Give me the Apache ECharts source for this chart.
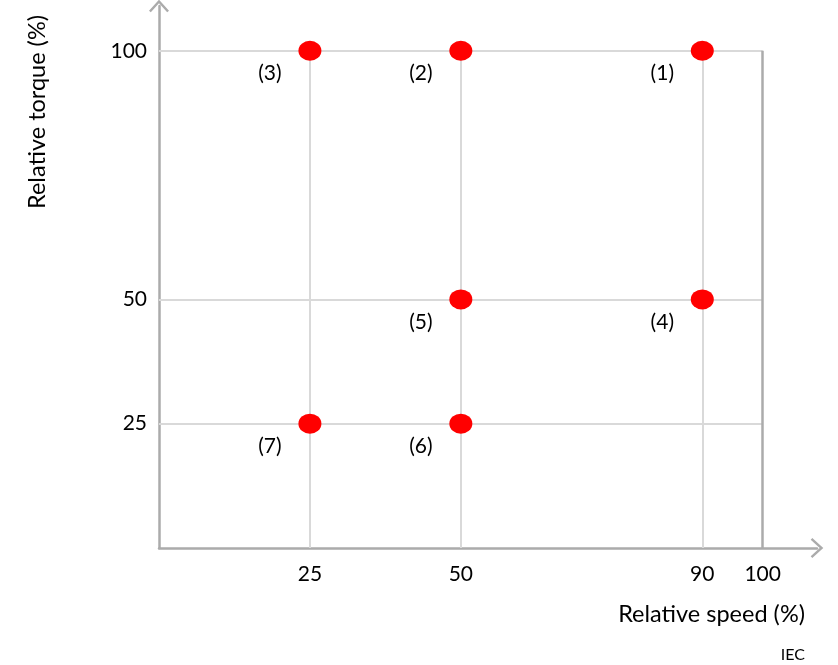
<!DOCTYPE html>
<html>
<head>
<meta charset="utf-8">
<script src="https://cdn.jsdelivr.net/npm/echarts@6/dist/echarts.min.js"></script>
<style>
  html, body { margin: 0; padding: 0; background: #fff; }
  #chart { width: 838px; height: 665px; }
</style>
</head>
<body>
<div id="chart"></div>
<script>
// Operating points: relative speed (%) and relative torque (%), with their numbers
const pointSpeed  = [90, 50, 25, 90, 50, 50, 25];
const pointTorque = [100, 100, 100, 50, 50, 25, 25];
const pointNames  = ['(1)', '(2)', '(3)', '(4)', '(5)', '(6)', '(7)'];

// Tick labels / reference lines
const speedTicks  = [25, 50, 90, 100];
const torqueTicks = [25, 50, 100];
const speedGrid   = [25, 50, 90];
const torqueGrid  = [25, 50, 100];
const speedLimit  = 100;
const torqueLimit = 100;

const FONT = 'Lato, "Open Sans", sans-serif';
const AXIS_GRAY = '#ababab';
const GRID_GRAY = '#d9d9d9';

// Open chevron arrowhead (points up, rotated by the axis)
const chevron = 'path://M10,0 L20,11 L18.2,12.6 L10,3.6 L1.8,12.6 L0,11 Z';

const gridLines = [];
speedGrid.forEach(v => gridLines.push([
  { coord: [v, 0], lineStyle: { color: GRID_GRAY, width: 2, type: 'solid' } },
  { coord: [v, torqueLimit] }
]));
torqueGrid.forEach(v => gridLines.push([
  { coord: [0, v], lineStyle: { color: GRID_GRAY, width: 2, type: 'solid' } },
  { coord: [speedLimit, v] }
]));
gridLines.push([
  { coord: [speedLimit, 0], lineStyle: { color: AXIS_GRAY, width: 2.5, type: 'solid' } },
  { coord: [speedLimit, torqueLimit] }
]);

const chart = echarts.init(document.getElementById('chart'), null, { renderer: 'canvas' });

chart.setOption({
  animation: false,
  backgroundColor: '#ffffff',
  grid: { left: 159, right: 21, top: 6, bottom: 117, containLabel: false },
  xAxis: {
    type: 'value',
    min: 0,
    max: 109,
    splitLine: { show: false },
    axisTick: { show: false },
    axisLine: {
      show: true,
      lineStyle: { color: AXIS_GRAY, width: 2.5 },
      symbol: ['none', chevron],
      symbolSize: [20, 13]
    },
    axisLabel: {
      customValues: speedTicks,
      margin: 16,
      color: '#000',
      fontFamily: FONT,
      fontSize: 21
    }
  },
  yAxis: {
    type: 'value',
    min: 0,
    max: 109,
    splitLine: { show: false },
    axisTick: { show: false },
    axisLine: {
      show: true,
      lineStyle: { color: AXIS_GRAY, width: 2.5 },
      symbol: ['none', chevron],
      symbolSize: [20, 13]
    },
    axisLabel: {
      customValues: torqueTicks,
      margin: 12,
      color: '#000',
      fontFamily: FONT,
      fontSize: 21
    }
  },
  series: [{
    type: 'scatter',
    symbol: 'circle',
    symbolSize: [23, 20],
    itemStyle: { color: '#ff0000', opacity: 1 },
    data: pointSpeed.map((s, i) => ({ value: [s, pointTorque[i]], name: pointNames[i] })),
    label: {
      show: true,
      position: 'bottom',
      distance: 2,
      offset: [-40, 0],
      formatter: p => p.name,
      color: '#000',
      fontFamily: FONT,
      fontSize: 21
    },
    markLine: {
      silent: true,
      symbol: ['none', 'none'],
      label: { show: false },
      animation: false,
      z: 1,
      data: gridLines
    },
    z: 5
  }],
  graphic: [
    {
      type: 'text',
      x: 37,
      y: 112,
      rotation: Math.PI / 2,
      style: {
        text: 'Relative torque (%)',
        fill: '#000',
        font: '23.5px ' + FONT,
        textAlign: 'center',
        textVerticalAlign: 'middle'
      }
    },
    {
      type: 'text',
      x: 805,
      y: 614,
      style: {
        text: 'Relative speed (%)',
        fill: '#000',
        font: '23.5px ' + FONT,
        textAlign: 'right',
        textVerticalAlign: 'middle'
      }
    },
    {
      type: 'text',
      x: 805,
      y: 655,
      style: {
        text: 'IEC',
        fill: '#000',
        font: '16px ' + FONT,
        textAlign: 'right',
        textVerticalAlign: 'middle'
      }
    }
  ]
});
</script>
</body>
</html>
